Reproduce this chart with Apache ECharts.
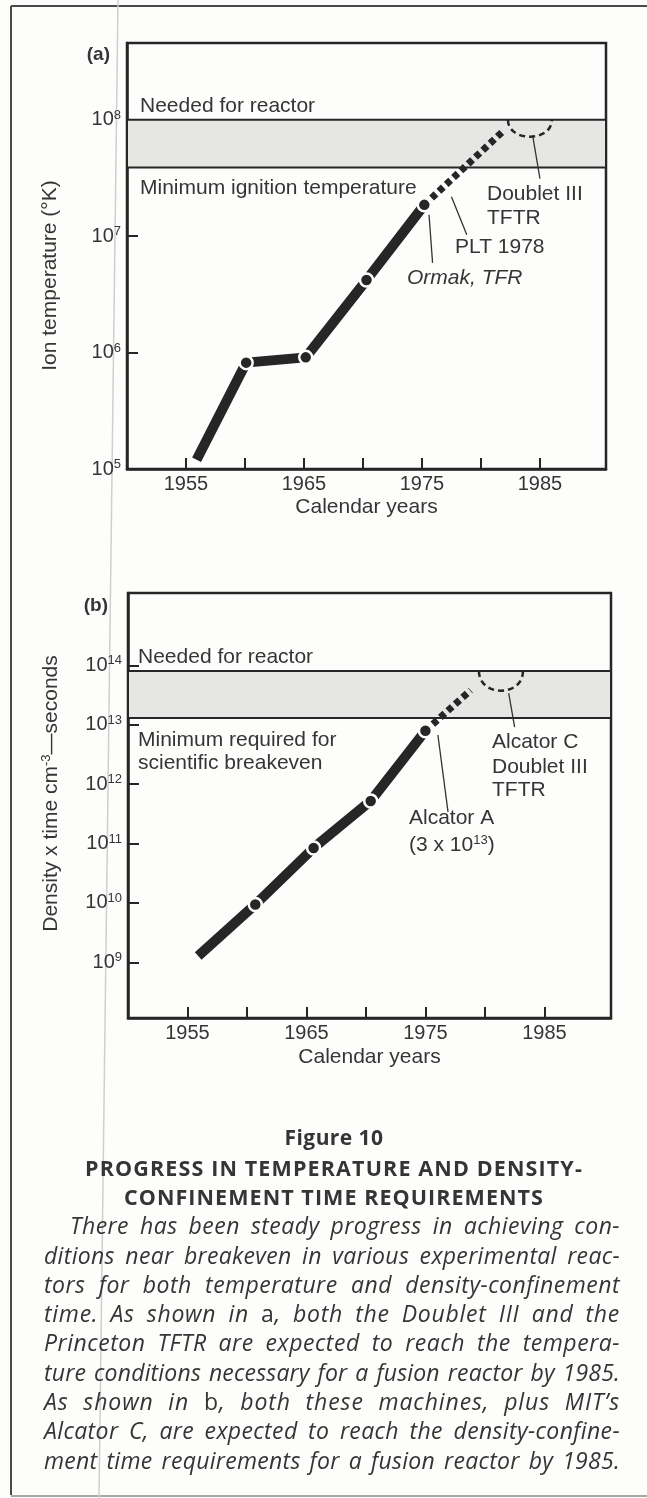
<!DOCTYPE html>
<html><head><meta charset="utf-8">
<script src="https://cdn.jsdelivr.net/npm/echarts@6/dist/echarts.min.js"></script>
<style>
html,body{margin:0;padding:0;background:#fdfdfc;}
#wrap{position:relative;width:647px;height:1498px;overflow:hidden;background:#fdfdfc;}
#chart{position:absolute;left:0;top:0;width:647px;height:1498px;}
#caption{position:absolute;left:0;top:1123.4px;width:647px;font-family:'Open Sans',Lato,sans-serif;color:#353535;font-size:23px;line-height:29.3px;}
#caption div{height:29.3px;white-space:nowrap;}
#caption .t{width:668px;text-align:center;font-weight:bold;}
#caption .l{font-style:italic;}
#caption .r{font-style:normal;}
</style></head>
<body><div id="wrap"><div id="chart"></div>
<div id="caption">
<div class="t" data-w="99" style="font-size:21px"><span class="in">Figure 10</span></div>
<div class="t" data-w="498" style="font-size:21.5px"><span class="in">PROGRESS IN TEMPERATURE AND DENSITY-</span></div>
<div class="t" data-w="420" style="font-size:21.5px"><span class="in">CONFINEMENT TIME REQUIREMENTS</span></div>
<div class="l" data-w="550" style="margin-left:70px"><span class="in">There has been steady progress in achieving con-</span></div>
<div class="l" data-w="576" style="margin-left:44px"><span class="in">ditions near breakeven in various experimental reac-</span></div>
<div class="l" data-w="576" style="margin-left:44px"><span class="in">tors for both temperature and density-confinement</span></div>
<div class="l" data-w="576" style="margin-left:44px"><span class="in">time. As shown in <span class="r">a</span>, both the Doublet III and the</span></div>
<div class="l" data-w="576" style="margin-left:44px"><span class="in">Princeton TFTR are expected to reach the tempera-</span></div>
<div class="l" data-w="576" style="margin-left:44px"><span class="in">ture conditions necessary for a fusion reactor by 1985.</span></div>
<div class="l" data-w="576" style="margin-left:44px"><span class="in">As shown in <span class="r">b</span>, both these machines, plus MIT’s</span></div>
<div class="l" data-w="576" style="margin-left:44px"><span class="in">Alcator C, are expected to reach the density-confine-</span></div>
<div class="l" data-w="576" style="margin-left:44px"><span class="in">ment time requirements for a fusion reactor by 1985.</span></div>
</div>
</div>
<script>
// ---------- data ----------
const yearTicks = [1955, 1960, 1965, 1970, 1975, 1980, 1985];
const yearLabels = [1955, 1965, 1975, 1985];
const tempTicks = [1e5, 1e6, 1e7, 1e8];
const densTicks = [1e9, 1e10, 1e11, 1e12, 1e13, 1e14];

// (a) ion temperature, achieved
const tempYears = [1955.9, 1960.1, 1965.15, 1970.3, 1975.2];
const tempValues = [1.2e5, 8.2e5, 9.1e5, 4.2e6, 1.86e7];
// (a) projection (PLT 1978)
const tempProjYears = [1975.2, 1982.0];
const tempProjValues = [1.86e7, 8.2e7];
// (a) band: minimum ignition temperature .. needed for reactor
const tempBand = [3.9e7, 1e8];
// (a) goal arc: [centre year, top value, half width (years), bottom value]
const tempGoalArc = [1984.15, 1e8, 1.86, 7.16e7];

// (b) density x confinement time, achieved
const densYears = [1955.9, 1960.7, 1965.6, 1970.4, 1975.0];
const densValues = [1.28e9, 9.4e9, 8.4e10, 5.2e11, 7.9e12];
const densProjYears = [1975.0, 1978.8];
const densProjValues = [7.9e12, 3.8e13];
const densBand = [1.3e13, 8e13];
const densGoalArc = [1981.35, 8e13, 1.85, 3.73e13];

// leader lines [year, value] pairs
const leaderDoublet = [[1984.4, 7.16e7], [1985.0, 3.12e7]];
const leaderPLT = [[1977.5, 2.18e7], [1978.8, 1.03e7]];
const leaderOrmak = [[1975.6, 1.53e7], [1975.9, 5.9e6]];
const leaderAlcatorC = [[1982.0, 3.4e13], [1982.5, 9.1e12]];
const leaderAlcatorA = [[1976.05, 6.7e12], [1976.9, 3.4e11]];

// ---------- chart ----------
const FONT = '"Liberation Sans", Arial, Helvetica, sans-serif';
const INK = '#262626';
const TXT = '#353535';

const zip = (xs, ys) => xs.map((x, i) => [x, ys[i]]);

function logLabel(v) {
  const e = Math.log10(v), r = Math.round(e);
  if (Math.abs(e - r) > 1e-6) return '';
  return '{b|10}{s|' + r + '}';
}
const supRich = {
  b: {fontSize: 20, fontFamily: FONT, color: TXT, lineHeight: 22},
  s: {fontSize: 13, fontFamily: FONT, color: TXT, lineHeight: 13, verticalAlign: 'top'}
};

function xAxisFor(i) {
  return {
    type: 'value', gridIndex: i, min: 1950, max: 1990.6, interval: 5,
    axisLine: {show: true, lineStyle: {color: INK, width: 2.5}},
    axisTick: {show: true, inside: true, length: 11, lineStyle: {color: INK, width: 2}, customValues: yearTicks},
    axisLabel: {customValues: yearLabels, margin: 5, fontSize: 20, color: TXT, fontFamily: FONT, formatter: v => String(v)},
    splitLine: {show: false},
    name: 'Calendar years', nameLocation: 'middle', nameGap: i === 0 ? 28 : 29,
    nameTextStyle: {fontSize: 21, color: TXT, fontFamily: FONT}
  };
}
function yAxisFor(i, min, max, ticks, name, pad) {
  return {
    type: 'log', logBase: 10, gridIndex: i, min: min, max: max,
    axisLine: {show: true, lineStyle: {color: INK, width: 2.5}},
    axisTick: {show: true, inside: true, length: 11, lineStyle: {color: INK, width: 2}, customValues: ticks},
    axisLabel: {customValues: ticks, formatter: logLabel, margin: 6, rich: supRich},
    splitLine: {show: false},
    name: name, nameLocation: 'middle', nameGap: 66,
    nameTextStyle: {fontSize: 21, color: TXT, fontFamily: FONT, padding: pad, rich: {
      s: {fontSize: 13, fontFamily: FONT, color: TXT, verticalAlign: 'top', lineHeight: 13},
      n: {fontSize: 21, fontFamily: FONT, color: TXT, lineHeight: 22}
    }}
  };
}

function achieved(i, xs, ys, band) {
  return {
    type: 'line', xAxisIndex: i, yAxisIndex: i, silent: true, z: 5,
    data: zip(xs, ys).map((p, k) => k === 0 ? {value: p, symbol: 'none'} : p),
    lineStyle: {color: INK, width: 10, cap: 'butt'},
    symbol: 'circle', symbolSize: 13,
    itemStyle: {color: INK, borderColor: '#fdfdfc', borderWidth: 2.5},
    markArea: {silent: true, itemStyle: {color: '#e6e6e4', borderColor: INK, borderWidth: 2},
      data: [[{yAxis: band[0]}, {yAxis: band[1]}]]}
  };
}
function projection(i, xs, ys) {
  return {
    type: 'line', xAxisIndex: i, yAxisIndex: i, silent: true, z: 4,
    data: zip(xs, ys), symbol: 'none',
    lineStyle: {color: INK, width: 7, type: [6, 4], cap: 'butt'}
  };
}
function goalArc(i, arc) {
  return {
    type: 'custom', xAxisIndex: i, yAxisIndex: i, silent: true, z: 4,
    data: [arc],
    renderItem: (params, api) => {
      const c = api.coord([api.value(0), api.value(1)]);
      const l = api.coord([api.value(0) - api.value(2), api.value(1)]);
      const b = api.coord([api.value(0), api.value(3)]);
      const rx = c[0] - l[0], ry = b[1] - c[1], k = 4 / 3;
      return {
        type: 'bezierCurve',
        shape: {x1: c[0] - rx, y1: c[1], x2: c[0] + rx, y2: c[1],
          cpx1: c[0] - rx, cpy1: c[1] + ry * k, cpx2: c[0] + rx, cpy2: c[1] + ry * k},
        style: {fill: 'none', stroke: INK, lineWidth: 2.5, lineDash: [6, 4]}
      };
    }
  };
}
function leader(i, pts) {
  return {type: 'line', xAxisIndex: i, yAxisIndex: i, silent: true, z: 3, data: pts, symbol: 'none',
    lineStyle: {color: '#333', width: 1.3}};
}

function txt(x, y, text, extra) {
  return Object.assign({type: 'text', x: x, y: y, silent: true, z: 10,
    style: Object.assign({text: text, fontSize: 21, fontFamily: FONT, fill: TXT, align: 'left', verticalAlign: 'middle'}, extra || {})});
}
function line(x1, y1, x2, y2, stroke, w) {
  return {type: 'line', silent: true, z: -1, shape: {x1, y1, x2, y2}, style: {stroke, lineWidth: w}};
}

const option = {
  animation: false,
  backgroundColor: 'transparent',
  grid: [
    {left: 127, top: 43, width: 479, height: 426, show: true, borderColor: INK, borderWidth: 2.5, backgroundColor: 'transparent'},
    {left: 128, top: 593, width: 483, height: 425, show: true, borderColor: INK, borderWidth: 2.5, backgroundColor: 'transparent'}
  ],
  xAxis: [xAxisFor(0), xAxisFor(1)],
  yAxis: [
    yAxisFor(0, 1e5, Math.pow(10, 8.66), tempTicks, 'Ion temperature (°K)', [0, 39, 0, 0]),
    yAxisFor(1, Math.pow(10, 8.062), Math.pow(10, 15.217), densTicks, '{n|Density x time cm}{s|-3}{n|—seconds}', [0, 0, 0, 24])
  ],
  series: [
    achieved(0, tempYears, tempValues, tempBand),
    projection(0, tempProjYears, tempProjValues),
    goalArc(0, tempGoalArc),
    leader(0, leaderDoublet), leader(0, leaderPLT), leader(0, leaderOrmak),
    achieved(1, densYears, densValues, densBand),
    projection(1, densProjYears, densProjValues),
    goalArc(1, densGoalArc),
    leader(1, leaderAlcatorC), leader(1, leaderAlcatorA)
  ],
  graphic: [
    line(11, 6, 647, 6, '#4a4a4a', 2),
    line(11, 6, 11, 1495, '#4a4a4a', 2),
    line(11, 1496, 647, 1496, '#8a8a8a', 1.5),
    line(118, 0, 99, 1498, '#cfcfcf', 1.5),
    // panel (a)
    txt(110, 55, '(a)', {fontWeight: 'bold', fontSize: 19, align: 'right'}),
    txt(140, 106, 'Needed for reactor'),
    txt(140, 188, 'Minimum ignition temperature'),
    txt(487, 194, 'Doublet III'),
    txt(487, 218, 'TFTR'),
    txt(455, 247, 'PLT 1978'),
    txt(407, 278, 'Ormak, TFR', {fontStyle: 'italic'}),
    // panel (b)
    txt(108, 606, '(b)', {fontWeight: 'bold', fontSize: 19, align: 'right'}),
    txt(138, 657, 'Needed for reactor'),
    txt(138, 740, 'Minimum required for'),
    txt(138, 763, 'scientific breakeven'),
    txt(492, 742, 'Alcator C'),
    txt(492, 767, 'Doublet III'),
    txt(492, 790, 'TFTR'),
    txt(409, 818, 'Alcator A'),
    txt(409, 845, '{n|(3 x 10}{s|13}{n|)}', {rich: {
      n: {fontSize: 21, fontFamily: FONT, fill: TXT, lineHeight: 22},
      s: {fontSize: 13, fontFamily: FONT, fill: TXT, lineHeight: 13, verticalAlign: 'top'}
    }})
  ]
};

const chart = echarts.init(document.getElementById('chart'), null, {renderer: 'canvas', width: 647, height: 1498});
chart.setOption(option);

function fitCaption() {
  document.querySelectorAll('#caption .l').forEach(el => {
    const s = el.querySelector('.in');
    s.style.wordSpacing = '0px';
    s.style.letterSpacing = '0px';
    const w = s.getBoundingClientRect().width;
    const text = s.textContent;
    const nSp = (text.match(/ /g) || []).length;
    const nCh = text.length;
    const diff = parseFloat(el.dataset.w) - w;
    const ls = diff * 0.4 / nCh;
    s.style.letterSpacing = ls + 'px';
    const w2 = s.getBoundingClientRect().width;
    const rest = parseFloat(el.dataset.w) - w2;
    if (nSp) s.style.wordSpacing = (rest / nSp) + 'px';
  });
  document.querySelectorAll('#caption .t').forEach(el => {
    const s = el.querySelector('.in');
    s.style.letterSpacing = '0px';
    const w = s.getBoundingClientRect().width;
    const n = s.textContent.length;
    s.style.letterSpacing = ((parseFloat(el.dataset.w) - w) / n) + 'px';
  });
}
fitCaption();
if (document.fonts && document.fonts.ready) document.fonts.ready.then(fitCaption);
</script>
</body></html>
